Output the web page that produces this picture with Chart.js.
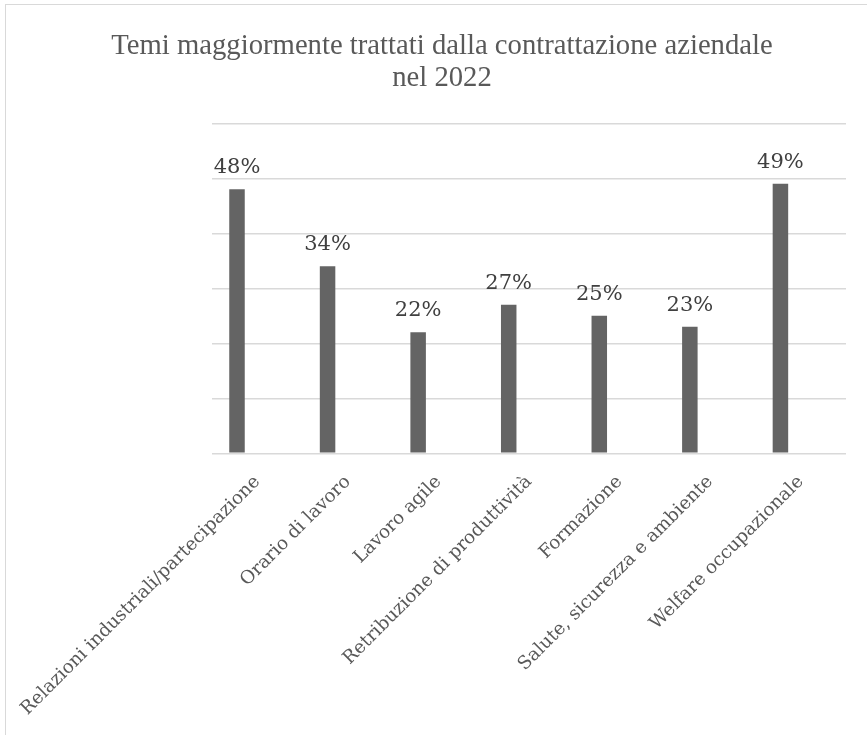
<!DOCTYPE html>
<html>
<head>
<meta charset="utf-8">
<script src="https://cdn.jsdelivr.net/npm/chart.js@4"></script>
<style>
  html, body { margin: 0; padding: 0; background: #fff; overflow: hidden; }
  #wrap { position: relative; width: 867px; height: 735px; }
  #frame {
    position: absolute; left: 5px; top: 4px; width: 2000px; height: 2000px;
    border-left: 1.5px solid #d9d9d9; border-top: 1.5px solid #d9d9d9;
    pointer-events: none;
  }
</style>
</head>
<body>
<div id="wrap">
  <canvas id="chart" width="867" height="735"></canvas>
  <div id="frame"></div>
</div>
<script>
// Chart data
const categories = [
    'Relazioni industriali/partecipazione',
    'Orario di lavoro',
    'Lavoro agile',
    'Retribuzione di produttività',
    'Formazione',
    'Salute, sicurezza e ambiente',
    'Welfare occupazionale'
];
const percentages = [48, 34, 22, 27, 25, 23, 49];
const yTicks = [0, 10, 20, 30, 40, 50, 60];

const titleLines = ['Temi maggiormente trattati dalla contrattazione aziendale', 'nel 2022'];

// Percent labels above the bars
const barLabels = {
    id: 'barLabels',
    afterDatasetsDraw(chart) {
        const ctx = chart.ctx;
        const meta = chart.getDatasetMeta(0);
        ctx.save();
        ctx.font = '21px "DejaVu Serif"';
        ctx.fillStyle = '#404040';
        ctx.textAlign = 'center';
        ctx.textBaseline = 'alphabetic';
        meta.data.forEach((bar, i) => {
            ctx.fillText(percentages[i] + '%', bar.x, bar.y - 16);
        });
        ctx.restore();
    }
};

document.addEventListener('DOMContentLoaded', function() {
    const ctx = document.getElementById('chart');
    new Chart(ctx, {
        type: 'bar',
        data: {
            labels: categories,
            datasets: [{
                data: percentages,
                backgroundColor: '#646464',
                categoryPercentage: 0.896,
                barPercentage: 0.382
            }, {
                // empty second series, keeps the bars left of the category centre
                data: categories.map(() => null),
                backgroundColor: 'transparent',
                categoryPercentage: 0.896,
                barPercentage: 0.382
            }]
        },
        options: {
            responsive: false,
            animation: false,
            devicePixelRatio: 1,
            layout: { padding: { left: 17, right: 0, top: 0, bottom: 0 } },
            plugins: {
                legend: { display: false },
                tooltip: { enabled: false },
                title: {
                    display: true,
                    text: titleLines,
                    color: '#595959',
                    font: { family: '"Liberation Serif"', size: 28.7, weight: 'normal', lineHeight: 1.115 },
                    padding: { top: 30.5, bottom: 28.8 }
                }
            },
            scales: {
                x: {
                    grid: { display: false, drawTicks: false },
                    border: { display: false },
                    ticks: {
                        autoSkip: false,
                        minRotation: 45,
                        maxRotation: 45,
                        padding: 18,
                        color: '#595959',
                        font: { family: '"DejaVu Serif"', size: 18.3 }
                    },
                    afterFit(scale) {
                        scale.height = 735 - 453.3;
                        // keep the plot at fixed edges, labels may overhang
                        scale.paddingLeft = 0;
                        scale.paddingRight = 21;
                    }
                },
                y: {
                    min: yTicks[0],
                    max: yTicks[yTicks.length - 1],
                    afterBuildTicks(scale) { scale.ticks = yTicks.map(v => ({ value: v })); },
                    grid: { color: '#d9d9d9', lineWidth: 1.5, drawTicks: false },
                    border: { display: false },
                    ticks: { display: false },
                    afterFit(scale) { scale.width = 212 - 17; }
                }
            }
        },
        plugins: [barLabels]
    });
});
</script>
</body>
</html>
